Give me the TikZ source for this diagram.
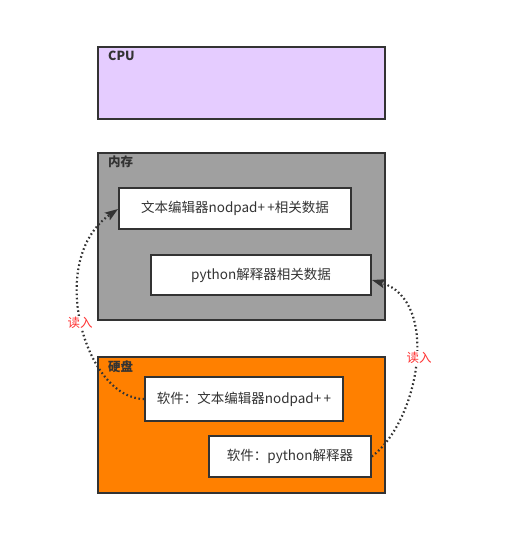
\documentclass[tikz,border=0pt]{standalone}
\usepackage{fontspec}
\setmainfont{Noto Sans CJK SC}
\usetikzlibrary{arrows.meta}
\definecolor{edge}{HTML}{333333}
\definecolor{cpufill}{HTML}{E5CCFF}
\definecolor{memfill}{HTML}{A0A0A0}
\definecolor{diskfill}{HTML}{FF8000}
\definecolor{readred}{HTML}{FF3333}
\tikzset{
  outerbox/.style={draw=edge, line width=2pt, inner sep=0pt},
  innerbox/.style={draw=edge, line width=1.6pt, fill=white, inner sep=0pt, font=\fontsize{13.5}{15}\selectfont, text=edge},
  boxtitle/.style={anchor=base west, inner sep=0pt, font=\bfseries\fontsize{12.5}{14}\selectfont, text=edge},
  readarrow/.style={draw=edge, line width=2.2pt, dash pattern=on 1.6pt off 2.6pt, -{Stealth[length=13pt,width=9pt,inset=2.5pt]}},
  readlabel/.style={fill=white, inner sep=1pt, text=readred, font=\fontsize{12.5}{14}\selectfont}
}
\begin{document}
\begin{tikzpicture}[x=1pt,y=-1pt]
\useasboundingbox (0,0) rectangle (522,556);
\fill[white] (0,0) rectangle (522,556);
% outer boxes
\draw[outerbox, fill=cpufill] (98,47) rectangle (385,119);
\node[boxtitle] (cpu) at (108,61) {CPU};
\draw[outerbox, fill=memfill] (98,153) rectangle (385,320);
\node[boxtitle] (mem) at (108,166) {内存};
\draw[outerbox, fill=diskfill] (98,357) rectangle (385,493);
\node[boxtitle] (disk) at (108,371) {硬盘};
% inner boxes
\node[innerbox, minimum width=232pt, minimum height=41pt] (m1) at (235,208.5) {文本编辑器nodpad+\,+相关数据};
\node[innerbox, minimum width=220pt, minimum height=40pt] (m2) at (261,275) {python解释器相关数据};
\node[innerbox, minimum width=198pt, minimum height=44pt] (d1) at (244,399) {软件：文本编辑器nodpad+\,+};
\node[innerbox, minimum width=162pt, minimum height=41pt] (d2) at (290,456.5) {软件：python解释器};
% arrows
\coordinate (t1) at (118,209);
\coordinate (t2) at (372,280);
\draw[readarrow] (d1.west) .. controls (85,399) and (45,260) .. (t1);
\draw[readarrow] (d2.east) .. controls (420,420) and (440,300) .. (t2);
\node[readlabel] (r1) at (80,323) {读入};
\node[readlabel] (r2) at (419,358) {读入};
\end{tikzpicture}
\end{document}
